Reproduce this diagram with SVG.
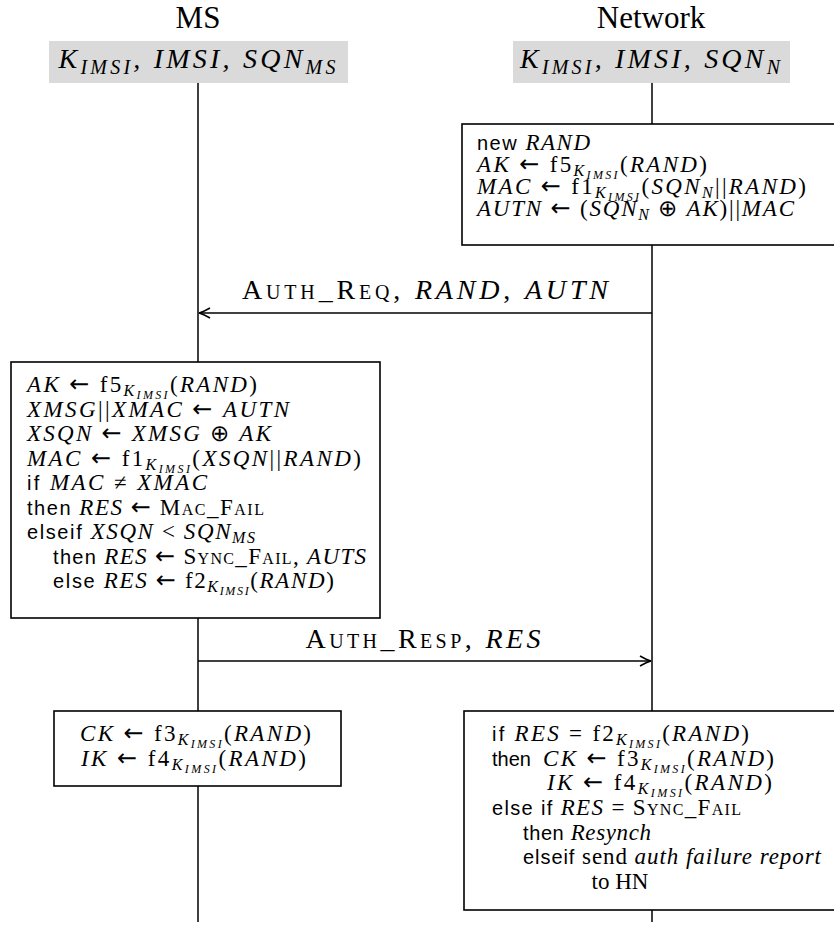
<svg xmlns="http://www.w3.org/2000/svg" width="834" height="929" viewBox="0 0 834 929">
<style>
.t{font-family:"Liberation Serif",serif;font-size:23px;fill:#000}
.i{font-style:italic}
.s{font-family:"Liberation Sans",sans-serif;font-size:20px;font-style:normal}
.ar{font-family:"DejaVu Sans",sans-serif;font-size:24px;font-style:normal}
.sc{font-variant:small-caps}
.sb{font-size:16px;font-style:italic}
.ss{font-size:12px;font-style:italic}
.nm{font-family:"Liberation Serif",serif;font-size:31px;fill:#000}
.hd{font-family:"Liberation Serif",serif;font-size:28px;font-style:italic;fill:#000}
.lbl{font-family:"Liberation Serif",serif;font-size:28px;fill:#000}
.box{fill:#fff;stroke:#000;stroke-width:1.6}
.gray{fill:#dadada}
.ln{stroke:#000;stroke-width:1.5;fill:none}
</style>
<defs>
<marker id="ah" markerWidth="14" markerHeight="12" refX="12" refY="6" orient="auto" markerUnits="userSpaceOnUse">
<path d="M1,1 Q8,5 12,6 Q8,7 1,11" fill="none" stroke="#000" stroke-width="1.5"/>
</marker>
</defs>
<rect width="834" height="929" fill="#fff"/>

<g id="lifelines">
<line class="ln" x1="198" y1="83" x2="198" y2="922"/>
<line class="ln" x1="652" y1="83" x2="652" y2="922"/>
</g>

<g id="ms-header">
<text class="nm" x="198" y="28" text-anchor="middle">MS</text>
<rect class="gray" x="49" y="41" width="299" height="42"/>
<text class="hd" x="197" y="68" text-anchor="middle" textLength="277" lengthAdjust="spacing">K<tspan font-size="20" dy="6">IMSI</tspan><tspan dy="-6">, IMSI, SQN</tspan><tspan font-size="20" dy="6">MS</tspan></text>
</g>

<g id="network-header">
<text class="nm" x="651" y="28" text-anchor="middle">Network</text>
<rect class="gray" x="513" y="41" width="277" height="42"/>
<text class="hd" x="650" y="68" text-anchor="middle" textLength="260" lengthAdjust="spacing">K<tspan font-size="20" dy="6">IMSI</tspan><tspan dy="-6">, IMSI, SQN</tspan><tspan font-size="20" dy="6">N</tspan></text>
</g>

<g id="network-compute">
<rect class="box" x="462" y="124" width="380" height="121"/>
<text class="t" x="477" y="150" textLength="113" lengthAdjust="spacing"><tspan class="s">new</tspan> <tspan class="i">RAND</tspan></text>
<text class="t" x="477" y="172" textLength="230" lengthAdjust="spacing"><tspan class="i">AK</tspan> <tspan class="ar">←</tspan> f5<tspan class="sb" dy="4">K</tspan><tspan class="ss" dy="3">IMSI</tspan><tspan dy="-7">(</tspan><tspan class="i">RAND</tspan>)</text>
<text class="t" x="477" y="194" textLength="329" lengthAdjust="spacing"><tspan class="i">MAC</tspan> <tspan class="ar">←</tspan> f1<tspan class="sb" dy="4">K</tspan><tspan class="ss" dy="3">IMSI</tspan><tspan dy="-7">(</tspan><tspan class="i">SQN</tspan><tspan class="sb" dy="4">N</tspan><tspan dy="-4">||</tspan><tspan class="i">RAND</tspan>)</text>
<text class="t" x="477" y="216" textLength="317" lengthAdjust="spacing"><tspan class="i">AUTN</tspan> <tspan class="ar">←</tspan> (<tspan class="i">SQN</tspan><tspan class="sb" dy="4">N</tspan><tspan dy="-4"> ⊕ </tspan><tspan class="i">AK</tspan>)||<tspan class="i">MAC</tspan></text>
</g>

<g id="ms-compute">
<rect class="box" x="11" y="362" width="369" height="256"/>
<text class="t" x="27" y="392" textLength="230" lengthAdjust="spacing"><tspan class="i">AK</tspan> <tspan class="ar">←</tspan> f5<tspan class="sb" dy="4">K</tspan><tspan class="ss" dy="3">IMSI</tspan><tspan dy="-7">(</tspan><tspan class="i">RAND</tspan>)</text>
<text class="t" x="27" y="416.5" textLength="262" lengthAdjust="spacing"><tspan class="i">XMSG</tspan>||<tspan class="i">XMAC</tspan> <tspan class="ar">←</tspan> <tspan class="i">AUTN</tspan></text>
<text class="t" x="27" y="441" textLength="244" lengthAdjust="spacing"><tspan class="i">XSQN</tspan> <tspan class="ar">←</tspan> <tspan class="i">XMSG</tspan> ⊕ <tspan class="i">AK</tspan></text>
<text class="t" x="27" y="465.5" textLength="334" lengthAdjust="spacing"><tspan class="i">MAC</tspan> <tspan class="ar">←</tspan> f1<tspan class="sb" dy="4">K</tspan><tspan class="ss" dy="3">IMSI</tspan><tspan dy="-7">(</tspan><tspan class="i">XSQN</tspan>||<tspan class="i">RAND</tspan>)</text>
<text class="t" x="27" y="490" textLength="180" lengthAdjust="spacing"><tspan class="s">if</tspan> <tspan class="i">MAC</tspan> ≠ <tspan class="i">XMAC</tspan></text>
<text class="t" x="27" y="514.5" textLength="237" lengthAdjust="spacing"><tspan class="s">then</tspan> <tspan class="i">RES</tspan> <tspan class="ar">←</tspan> <tspan class="sc">Mac_Fail</tspan></text>
<text class="t" x="27" y="539" textLength="228" lengthAdjust="spacing"><tspan class="s">elseif</tspan> <tspan class="i">XSQN</tspan> &lt; <tspan class="i">SQN</tspan><tspan class="sb" dy="4">MS</tspan></text>
<text class="t" x="53" y="563.5" textLength="313" lengthAdjust="spacing"><tspan class="s">then</tspan> <tspan class="i">RES</tspan> <tspan class="ar">←</tspan> <tspan class="sc">Sync_Fail</tspan>, <tspan class="i">AUTS</tspan></text>
<text class="t" x="53" y="588" textLength="281" lengthAdjust="spacing"><tspan class="s">else</tspan> <tspan class="i">RES</tspan> <tspan class="ar">←</tspan> f2<tspan class="sb" dy="4">K</tspan><tspan class="ss" dy="3">IMSI</tspan><tspan dy="-7">(</tspan><tspan class="i">RAND</tspan>)</text>
</g>

<g id="ms-keys">
<rect class="box" x="54" y="711" width="287" height="75"/>
<text class="t" x="80" y="741" textLength="231" lengthAdjust="spacing"><tspan class="i">CK</tspan> <tspan class="ar">←</tspan> f3<tspan class="sb" dy="4">K</tspan><tspan class="ss" dy="3">IMSI</tspan><tspan dy="-7">(</tspan><tspan class="i">RAND</tspan>)</text>
<text class="t" x="81" y="766" textLength="225" lengthAdjust="spacing"><tspan class="i">IK</tspan> <tspan class="ar">←</tspan> f4<tspan class="sb" dy="4">K</tspan><tspan class="ss" dy="3">IMSI</tspan><tspan dy="-7">(</tspan><tspan class="i">RAND</tspan>)</text>
</g>

<g id="network-verify">
<rect class="box" x="464" y="711" width="380" height="199"/>
<text class="t" x="492" y="741" textLength="257" lengthAdjust="spacing"><tspan class="s">if</tspan> <tspan class="i">RES</tspan> = f2<tspan class="sb" dy="4">K</tspan><tspan class="ss" dy="3">IMSI</tspan><tspan dy="-7">(</tspan><tspan class="i">RAND</tspan>)</text>
<text class="t" x="492" y="766"><tspan class="s">then</tspan></text>
<text class="t" x="543" y="766" textLength="231" lengthAdjust="spacing"><tspan class="i">CK</tspan> <tspan class="ar">←</tspan> f3<tspan class="sb" dy="4">K</tspan><tspan class="ss" dy="3">IMSI</tspan><tspan dy="-7">(</tspan><tspan class="i">RAND</tspan>)</text>
<text class="t" x="547" y="790" textLength="225" lengthAdjust="spacing"><tspan class="i">IK</tspan> <tspan class="ar">←</tspan> f4<tspan class="sb" dy="4">K</tspan><tspan class="ss" dy="3">IMSI</tspan><tspan dy="-7">(</tspan><tspan class="i">RAND</tspan>)</text>
<text class="t" x="492" y="815" textLength="249" lengthAdjust="spacing"><tspan class="s">else  if</tspan> <tspan class="i">RES</tspan> = <tspan class="sc">Sync_Fail</tspan></text>
<text class="t" x="523" y="840" textLength="128" lengthAdjust="spacing"><tspan class="s">then</tspan> <tspan class="i">Resynch</tspan></text>
<text class="t" x="523" y="864" textLength="298" lengthAdjust="spacing"><tspan class="s">elseif</tspan> send <tspan class="i">auth failure report</tspan></text>
<text class="t" x="620" y="889" text-anchor="middle">to HN</text>
</g>

<g id="connectors">
<line class="ln" x1="652" y1="313" x2="199" y2="313" marker-end="url(#ah)"/>
<text class="lbl" x="425" y="299" text-anchor="middle" textLength="366" lengthAdjust="spacing"><tspan class="sc">Auth_Req</tspan>, <tspan class="i">RAND</tspan>,  <tspan class="i">AUTN</tspan></text>
<line class="ln" x1="198" y1="661" x2="651" y2="661" marker-end="url(#ah)"/>
<text class="lbl" x="423" y="648" text-anchor="middle" textLength="235" lengthAdjust="spacing"><tspan class="sc">Auth_Resp</tspan>, <tspan class="i">RES</tspan></text>
</g>
</svg>
